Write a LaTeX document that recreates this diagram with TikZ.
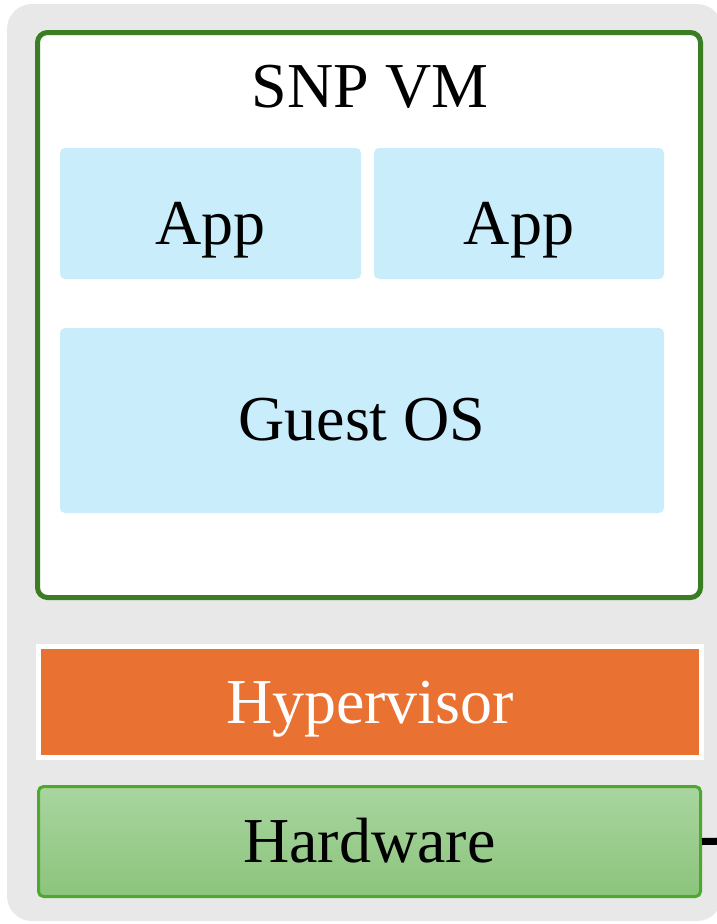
\documentclass[tikz,border=0pt]{standalone}
\usepackage{fontspec}
\setmainfont{Liberation Serif}
\definecolor{panelgray}{HTML}{E8E8E8}
\definecolor{vmgreen}{HTML}{3B7D23}
\definecolor{appblue}{HTML}{CAEDFB}
\definecolor{hvorange}{HTML}{E97132}
\definecolor{hwtop}{HTML}{A9D5A0}
\definecolor{hwbottom}{HTML}{8CC47C}
\definecolor{hwedge}{HTML}{4EA72E}
\begin{document}
\begin{tikzpicture}[x=1pt,y=-1pt,
  bigtext/.style={font=\fontsize{64}{72}\selectfont},
  vmbox/.style={draw=vmgreen,line width=5pt,fill=white,rounded corners=10pt,inner sep=0pt},
  layerbox/.style={fill=appblue,rounded corners=5pt,inner sep=0pt,bigtext},
  hvbox/.style={draw=white,line width=5pt,fill=hvorange,inner sep=0pt,bigtext,text=white},
  hwbox/.style={draw=hwedge,line width=3pt,rounded corners=5pt,top color=hwtop,bottom color=hwbottom,inner sep=0pt,bigtext}]
  \useasboundingbox (0,0) rectangle (717,924);
  \begin{scope}
    \clip (0,0) rectangle (717,924);
    \fill[panelgray,rounded corners=25pt] (7,4) rectangle (722,921);
  \end{scope}
  % virtual machine frame and its contents
  \node[vmbox,minimum width=663pt,minimum height=565pt] (vm) at (369,315) {};
  \node[bigtext,anchor=base,inner sep=0pt] (vmtitle) at (370,107) {SNP VM};
  \node[layerbox,minimum width=301pt,minimum height=131pt,text height=61pt,text depth=0pt] (app1) at (210.5,213.5) {App};
  \node[layerbox,minimum width=290pt,minimum height=131pt,text height=61pt,text depth=0pt] (app2) at (519,213.5) {App};
  \node[layerbox,minimum width=604pt,minimum height=185pt,text height=45pt,text depth=6pt] (guest) at (362,420.5) {Guest OS};
  % lower layers
  \node[hvbox,minimum width=663pt,minimum height=111pt,text height=48pt,text depth=6pt] (hv) at (370,702) {Hypervisor};
  \node[hwbox,minimum width=662pt,minimum height=110pt,text height=47pt,text depth=6pt] (hw) at (369.5,841.5) {Hardware};
  \coordinate (hwlink) at (730,841);
  \draw[line width=7pt] (hw.east) -- (hwlink);
\end{tikzpicture}
\end{document}
